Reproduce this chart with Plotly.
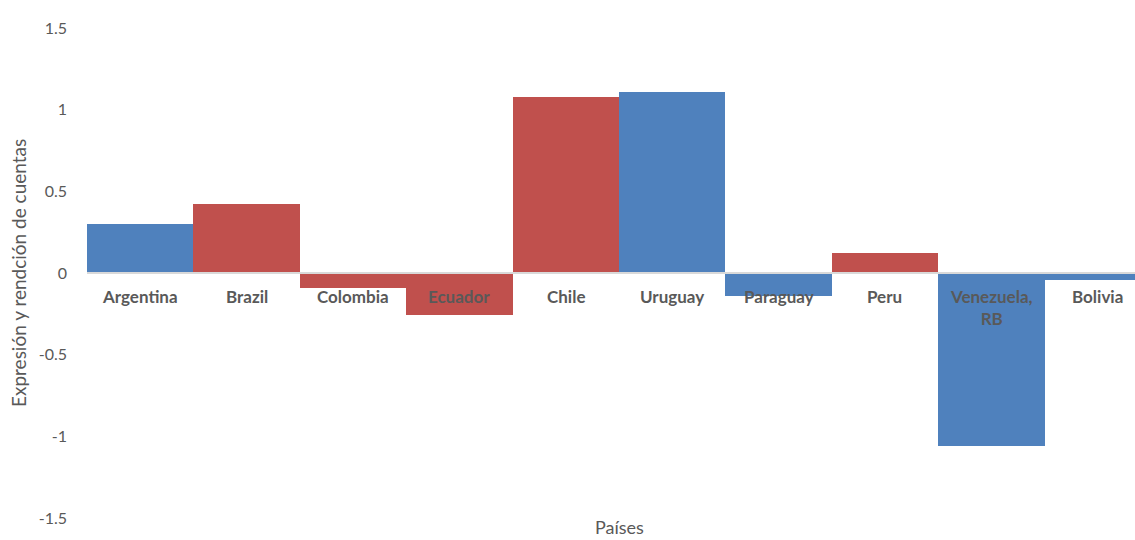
import plotly.graph_objects as go

countries = ["Argentina", "Brazil", "Colombia", "Ecuador", "Chile", "Uruguay",
             "Paraguay", "Peru", "Venezuela, RB", "Bolivia"]
tick_labels = ["Argentina", "Brazil", "Colombia", "Ecuador", "Chile", "Uruguay",
               "Paraguay", "Peru", "Venezuela,<br>RB", "Bolivia"]
values = [0.30, 0.42, -0.09, -0.26, 1.08, 1.11, -0.14, 0.12, -1.06, -0.04]
y_ticks = [-1.5, -1, -0.5, 0, 0.5, 1, 1.5]
y_tick_text = ["-1.5", "-1", "-0.5", "0", "0.5", "1", "1.5"]

BLUE = "#4F81BD"
RED = "#C0504D"
bar_colors = [BLUE, RED, RED, RED, RED, BLUE, BLUE, RED, BLUE, BLUE]

FONT = "Lato"
TXT = "#595959"
PW = 1048  # plot width in px
PH = 490   # plot height in px
ML, MT = 87, 28

fig = go.Figure(go.Bar(
    x=countries, y=values,
    marker=dict(color=bar_colors, line=dict(width=0)),
    hoverinfo="x+y",
))

annotations = []
for c, lab in zip(countries, tick_labels):
    annotations.append(dict(
        x=c, y=0, xref="x", yref="y", text="<b>" + lab + "</b>",
        showarrow=False, yanchor="top", yshift=-11,
        font=dict(family=FONT, size=17, color=TXT),
    ))
annotations.append(dict(
    x=(18 - ML) / PW, y=0.5, xref="paper", yref="paper",
    text="Expresión y rendción de cuentas", textangle=-90, showarrow=False,
    xanchor="center", yanchor="middle",
    font=dict(family=FONT, size=19, color=TXT),
))
annotations.append(dict(
    x=(619 - ML) / PW, y=-9 / PH, xref="paper", yref="paper",
    text="Países", showarrow=False, xanchor="center", yanchor="middle",
    font=dict(family=FONT, size=18, color=TXT),
))

fig.update_layout(
    width=1135, height=540,
    margin=dict(l=ML, r=0, t=MT, b=22),
    paper_bgcolor="white", plot_bgcolor="white",
    bargap=0, showlegend=False,
    annotations=annotations,
    shapes=[dict(type="line", xref="paper", yref="y", x0=0, x1=1, y0=0, y1=0,
                 line=dict(color="#D9D9D9", width=2), layer="above")],
    xaxis=dict(range=[-0.5, 9.35], showticklabels=False, showgrid=False,
               zeroline=False, showline=False, ticks=""),
    yaxis=dict(range=[-1.5, 1.5], tickvals=y_ticks, ticktext=y_tick_text,
               showgrid=False, zeroline=False, showline=False, ticks="",
               ticklabelstandoff=19,
               tickfont=dict(family=FONT, size=16, color=TXT)),
)

fig.write_html(
    "out.html",
    config={"displayModeBar": False},
    post_script="document.body.style.margin='0px';document.body.style.overflow='hidden';",
)
